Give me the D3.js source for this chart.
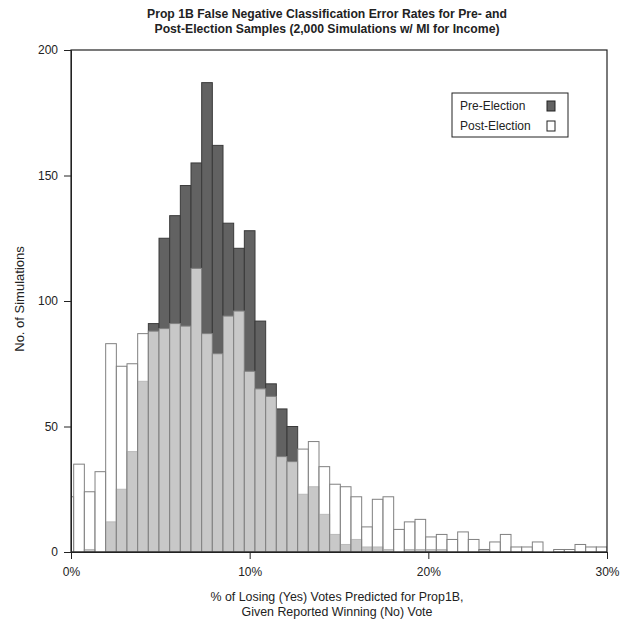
<!DOCTYPE html>
<html>
<head>
<meta charset="utf-8">
<script src="https://cdn.jsdelivr.net/npm/d3@7"></script>
<style>
body { margin: 0; background: #fff; }
text { font-family: "Liberation Sans", Arial, sans-serif; fill: #222; }
.title { font-weight: bold; }
</style>
</head>
<body>
<script>
const w = 632;
const h = 620;

// histogram bins (in %), first bin partly left of 0%
const binStart = -0.447;
const binWidth = 0.597;
const preCounts = [0, 0, 1, 0, 12, 25, 40, 68, 91, 125, 134, 146, 155, 187, 162, 131, 121, 128, 92, 67, 57, 50,
    23, 26, 15, 7, 3, 5, 2, 2, 1, 0, 1, 1, 1, 1, 0, 0, 0, 1, 0, 0, 0, 0, 0, 0, 0, 0, 0, 0, 0];
const postCounts = [22, 35, 24, 32, 83, 74, 75, 87, 88, 89, 91, 90, 113, 87, 79, 94, 96, 72, 65, 62, 38, 36,
    41, 44, 34, 27, 26, 22, 10, 21, 22, 9, 12, 13, 6, 7, 5, 8, 5, 1, 4, 7, 2, 2, 4, 0, 1, 1, 3, 2, 2];
const xTicks = [0, 10, 20, 30];
const yTicks = [0, 50, 100, 150, 200];
const titleLines = ["Prop 1B False Negative Classification Error Rates for Pre- and",
    "Post-Election Samples (2,000 Simulations w/ MI for Income)"];
const xLabelLines = ["% of Losing (Yes) Votes Predicted for Prop1B,", "Given Reported Winning (No) Vote"];
const yLabel = "No. of Simulations";
const legendItems = ["Pre-Election", "Post-Election"];

const preColor = "#626262";
const postFill = "rgba(255,255,255,0.65)";

const bins = preCounts.map((d, i) => ({
    x0: binStart + i * binWidth,
    x1: binStart + (i + 1) * binWidth,
    pre: d,
    post: postCounts[i]
}));

const svg = d3.select("body")
    .append("svg")
    .attr("width", w)
    .attr("height", h);

const xScale = d3.scaleLinear().domain([0, 30]).range([71, 607]);
const yScale = d3.scaleLinear().domain([0, 200]).range([552, 50]);

svg.append("clipPath")
    .attr("id", "plotclip")
    .append("rect")
    .attr("x", xScale(0))
    .attr("y", yScale(200))
    .attr("width", xScale(30) - xScale(0))
    .attr("height", yScale(0) - yScale(200) + 1);

const plot = svg.append("g").attr("clip-path", "url(#plotclip)");

plot.selectAll("rect.pre")
    .data(bins)
    .enter()
    .append("rect")
    .attr("class", "pre")
    .attr("x", d => xScale(d.x0))
    .attr("y", d => yScale(d.pre))
    .attr("width", d => xScale(d.x1) - xScale(d.x0))
    .attr("height", d => yScale(0) - yScale(d.pre))
    .attr("fill", preColor)
    .attr("stroke", "#3a3a3a")
    .attr("stroke-width", 1);

plot.selectAll("rect.post")
    .data(bins)
    .enter()
    .append("rect")
    .attr("class", "post")
    .attr("x", d => xScale(d.x0))
    .attr("y", d => yScale(d.post))
    .attr("width", d => xScale(d.x1) - xScale(d.x0))
    .attr("height", d => yScale(0) - yScale(d.post))
    .attr("fill", postFill)
    .attr("stroke", "#808080")
    .attr("stroke-width", 1);

// frame
svg.append("rect")
    .attr("x", xScale(0))
    .attr("y", yScale(200))
    .attr("width", xScale(30) - xScale(0))
    .attr("height", yScale(0) - yScale(200))
    .attr("fill", "none")
    .attr("stroke", "#222")
    .attr("stroke-width", 1.2);

const yAxis = d3.axisLeft(yScale)
    .tickValues(yTicks)
    .tickSize(7)
    .tickPadding(6);

svg.append("g")
    .attr("transform", "translate(" + xScale(0) + ",0)")
    .call(yAxis)
    .call(g => g.selectAll("text").style("font-size", "12px").attr("fill", "#222"))
    .call(g => g.selectAll("line, path").attr("stroke", "#222"));

const xAxis = d3.axisBottom(xScale)
    .tickValues(xTicks)
    .tickFormat(d => d + "%")
    .tickSize(7)
    .tickPadding(8);

svg.append("g")
    .attr("transform", "translate(0," + yScale(0) + ")")
    .call(xAxis)
    .call(g => g.selectAll("text").style("font-size", "12px").attr("fill", "#222"))
    .call(g => g.selectAll("line, path").attr("stroke", "#222"));

// title is set in a condensed face in the original, so squeeze it to width
svg.selectAll("text.title")
    .data(titleLines)
    .enter()
    .append("text")
    .attr("class", "title")
    .attr("x", 327)
    .attr("y", (d, i) => 18 + i * 15)
    .attr("text-anchor", "middle")
    .attr("textLength", (d, i) => i === 0 ? 360 : 345)
    .attr("lengthAdjust", "spacingAndGlyphs")
    .style("font-size", "13.5px")
    .text(d => d);

svg.selectAll("text.xlabel")
    .data(xLabelLines)
    .enter()
    .append("text")
    .attr("class", "xlabel")
    .attr("x", 337)
    .attr("y", (d, i) => 601 + i * 15)
    .attr("text-anchor", "middle")
    .style("font-size", "12.4px")
    .text(d => d);

svg.append("text")
    .attr("transform", "translate(24,299) rotate(-90)")
    .attr("text-anchor", "middle")
    .style("font-size", "13px")
    .text(yLabel);

// legend
const legend = svg.append("g").attr("transform", "translate(452,93)");
legend.append("rect")
    .attr("width", 116)
    .attr("height", 44)
    .attr("fill", "#fff")
    .attr("stroke", "#222");
legend.selectAll("text")
    .data(legendItems)
    .enter()
    .append("text")
    .attr("x", 8)
    .attr("y", (d, i) => 17 + i * 20)
    .style("font-size", "12px")
    .text(d => d);
legend.selectAll("rect.key")
    .data(legendItems)
    .enter()
    .append("rect")
    .attr("class", "key")
    .attr("x", 95)
    .attr("y", (d, i) => 8 + i * 20)
    .attr("width", 8)
    .attr("height", 10)
    .attr("fill", (d, i) => i === 0 ? preColor : "#fff")
    .attr("stroke", "#222");
</script>
</body>
</html>
